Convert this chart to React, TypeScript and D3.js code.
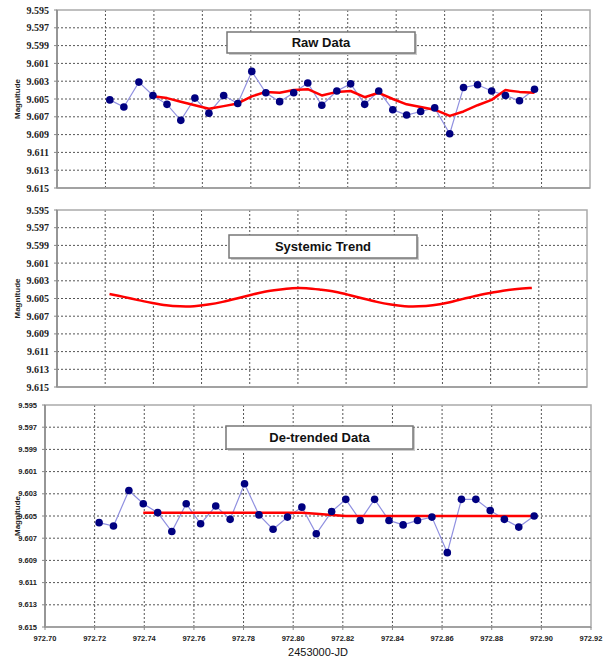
import React, { useRef, useEffect } from "react";
import * as d3 from "d3";

// observation times (2453000-JD)
const times = [
  972.7218, 972.7276, 972.7338, 972.7396, 972.7454, 972.7511, 972.7569, 972.7627,
  972.7688, 972.7746, 972.7804, 972.7862, 972.7919, 972.7977, 972.8035, 972.8093,
  972.8155, 972.8212, 972.827, 972.8328, 972.8386, 972.8443, 972.8501, 972.8559,
  972.8621, 972.8678, 972.8736, 972.8794, 972.8851, 972.8909, 972.8971,
];

const rawMag = [
  9.6051, 9.6059, 9.6031, 9.6046, 9.6056, 9.6074, 9.6049, 9.6066, 9.6046, 9.6055,
  9.6019, 9.6043, 9.6053, 9.6043, 9.6032, 9.6057, 9.6041, 9.6033, 9.6056, 9.6041,
  9.6062, 9.6068, 9.6064, 9.606, 9.6089, 9.6037, 9.6034, 9.6041, 9.6046, 9.6052,
  9.6039,
];

// running mean, starts at the 4th observation
const rawMean = [
  9.6047, 9.6049, 9.6053, 9.6057, 9.6061, 9.6058, 9.6055, 9.6047, 9.6042, 9.6043,
  9.604, 9.6039, 9.6046, 9.6042, 9.6041, 9.6048, 9.6043, 9.605, 9.6056, 9.6059,
  9.6062, 9.6069, 9.6064, 9.6057, 9.6051, 9.604, 9.6042, 9.6043,
];

const systemicTrend = [
  9.6045, 9.6048, 9.6052, 9.6055, 9.6058, 9.6059, 9.6059, 9.6057, 9.6054, 9.605,
  9.6046, 9.6042, 9.604, 9.6038, 9.6038, 9.604, 9.6042, 9.6046, 9.605, 9.6054,
  9.6057, 9.6059, 9.6059, 9.6058, 9.6055, 9.6051, 9.6047, 9.6044, 9.6041, 9.6039,
  9.6038,
];

const detrendedMag = [
  9.6056, 9.6059, 9.6027, 9.6039, 9.6047, 9.6064, 9.6039, 9.6057, 9.6041, 9.6053,
  9.6021, 9.6049, 9.6062, 9.6051, 9.6042, 9.6066, 9.6046, 9.6035, 9.6054, 9.6035,
  9.6054, 9.6058, 9.6054, 9.6051, 9.6083, 9.6035, 9.6035, 9.6045, 9.6053, 9.606,
  9.605,
];

const detrendedMean = [
  9.6047, 9.6047, 9.6047, 9.6047, 9.6047, 9.6047, 9.6047, 9.6047, 9.6047, 9.6047,
  9.6047, 9.6047, 9.6048, 9.6049, 9.605, 9.605, 9.605, 9.605, 9.605, 9.605,
  9.605, 9.605, 9.605, 9.605, 9.605, 9.605, 9.605, 9.605,
];

const yTicks = [9.595, 9.597, 9.599, 9.601, 9.603, 9.605, 9.607, 9.609, 9.611, 9.613, 9.615];
const xTicks = [972.7, 972.72, 972.74, 972.76, 972.78, 972.8, 972.82, 972.84, 972.86, 972.88, 972.9, 972.92];

const App = () => {
  const svgRef = useRef();

  useEffect(() => {
    document.body.style.margin = "0";
    const svg = d3.select(svgRef.current);
    svg.selectAll("*").remove();

    const panels = [
      {
        top: 10, bottom: 188, left: 57, right: 590,
        title: "Raw Data", box: [227, 32, 188, 21],
        points: rawMag, red: rawMean, redStart: 3, smooth: false,
        labelFont: "'Liberation Serif', 'Times New Roman', serif", labelSize: 10, showX: false,
      },
      {
        top: 210, bottom: 387, left: 57, right: 587,
        title: "Systemic Trend", box: [229, 235, 188, 23],
        points: null, red: systemicTrend, redStart: 0, smooth: true,
        labelFont: "'Liberation Serif', 'Times New Roman', serif", labelSize: 10, showX: false,
      },
      {
        top: 405, bottom: 627, left: 45, right: 591,
        title: "De-trended Data", box: [226, 426, 187, 23],
        points: detrendedMag, red: detrendedMean, redStart: 3, smooth: false,
        labelFont: "Arial, 'Liberation Sans', sans-serif", labelSize: 7.5, showX: true,
      },
    ];

    panels.forEach((p) => {
      const x = d3.scaleLinear().domain([972.7, 972.92]).range([p.left, p.right]);
      const y = d3.scaleLinear().domain([9.595, 9.615]).range([p.top, p.bottom]);
      const g = svg.append("g");

      // grid
      g.selectAll(".hgrid")
        .data(yTicks.slice(1, -1))
        .enter()
        .append("line")
        .attr("x1", p.left)
        .attr("x2", p.right)
        .attr("y1", (d) => y(d))
        .attr("y2", (d) => y(d))
        .attr("stroke", "#555")
        .attr("stroke-width", 1)
        .attr("stroke-dasharray", "2,2");
      g.selectAll(".vgrid")
        .data(xTicks.slice(1, -1))
        .enter()
        .append("line")
        .attr("x1", (d) => x(d))
        .attr("x2", (d) => x(d))
        .attr("y1", p.top)
        .attr("y2", p.bottom)
        .attr("stroke", "#555")
        .attr("stroke-width", 1)
        .attr("stroke-dasharray", "2,2");

      // frame
      g.append("rect")
        .attr("x", p.left)
        .attr("y", p.top)
        .attr("width", p.right - p.left)
        .attr("height", p.bottom - p.top)
        .attr("fill", "none")
        .attr("stroke", "#aaa")
        .attr("stroke-width", 1.5);
      g.append("line")
        .attr("x1", p.left).attr("x2", p.left)
        .attr("y1", p.top).attr("y2", p.bottom)
        .attr("stroke", "#888").attr("stroke-width", 1.5);
      g.append("line")
        .attr("x1", p.left).attr("x2", p.right)
        .attr("y1", p.bottom).attr("y2", p.bottom)
        .attr("stroke", "#999").attr("stroke-width", 1.5);

      // y axis labels
      g.selectAll(".ytick")
        .data(yTicks)
        .enter()
        .append("line")
        .attr("x1", p.left - 3).attr("x2", p.left)
        .attr("y1", (d) => y(d)).attr("y2", (d) => y(d))
        .attr("stroke", "#888");
      g.selectAll(".ylab")
        .data(yTicks)
        .enter()
        .append("text")
        .attr("x", p.left - 8)
        .attr("y", (d) => y(d) + p.labelSize * 0.35)
        .attr("text-anchor", "end")
        .attr("font-family", p.labelFont)
        .attr("font-weight", "bold")
        .attr("font-size", p.labelSize)
        .attr("fill", "#222")
        .text((d) => d3.format(".3f")(d));

      g.append("text")
        .attr("transform", `translate(20,${(p.top + p.bottom) / 2}) rotate(-90)`)
        .attr("text-anchor", "middle")
        .attr("font-family", "Arial, 'Liberation Sans', sans-serif")
        .attr("font-weight", "bold")
        .attr("font-size", 8)
        .attr("fill", "#222")
        .text("Magnitude");

      if (p.showX) {
        g.selectAll(".xtick")
          .data(xTicks)
          .enter()
          .append("line")
          .attr("x1", (d) => x(d)).attr("x2", (d) => x(d))
          .attr("y1", p.bottom).attr("y2", p.bottom + 3)
          .attr("stroke", "#888");
        g.selectAll(".xlab")
          .data(xTicks)
          .enter()
          .append("text")
          .attr("x", (d) => x(d))
          .attr("y", p.bottom + 14)
          .attr("text-anchor", "middle")
          .attr("font-family", "Arial, 'Liberation Sans', sans-serif")
          .attr("font-weight", "bold")
          .attr("font-size", 7.5)
          .attr("fill", "#222")
          .text((d) => d3.format(".2f")(d));
        g.append("text")
          .attr("x", (p.left + p.right) / 2)
          .attr("y", 656)
          .attr("text-anchor", "middle")
          .attr("font-family", "Arial, 'Liberation Sans', sans-serif")
          .attr("font-size", 11)
          .attr("fill", "#111")
          .text("2453000-JD");
      }

      // title box
      const [bx, by, bw, bh] = p.box;
      g.append("rect")
        .attr("x", bx + 2).attr("y", by + 2)
        .attr("width", bw).attr("height", bh)
        .attr("fill", "#ccc");
      g.append("rect")
        .attr("x", bx).attr("y", by)
        .attr("width", bw).attr("height", bh)
        .attr("fill", "white")
        .attr("stroke", "#777")
        .attr("stroke-width", 1.5);
      g.append("text")
        .attr("x", bx + bw / 2)
        .attr("y", by + bh / 2 + 4.5)
        .attr("text-anchor", "middle")
        .attr("font-family", "Arial, 'Liberation Sans', sans-serif")
        .attr("font-weight", "bold")
        .attr("font-size", 13)
        .attr("fill", "#111")
        .text(p.title);

      // data
      if (p.points) {
        const line = d3
          .line()
          .x((d, i) => x(times[i]))
          .y((d) => y(d));
        g.append("path")
          .attr("d", line(p.points))
          .attr("fill", "none")
          .attr("stroke", "#9090e0")
          .attr("stroke-width", 1.2);
      }

      const redLine = d3
        .line()
        .x((d, i) => x(times[i + p.redStart]))
        .y((d) => y(d))
        .curve(p.smooth ? d3.curveBasis : d3.curveLinear);
      g.append("path")
        .attr("d", redLine(p.red))
        .attr("fill", "none")
        .attr("stroke", "#ff0000")
        .attr("stroke-width", 2.5)
        .attr("stroke-linejoin", "round");

      if (p.points) {
        g.selectAll(".pt")
          .data(p.points)
          .enter()
          .append("circle")
          .attr("cx", (d, i) => x(times[i]))
          .attr("cy", (d) => y(d))
          .attr("r", 3.8)
          .attr("fill", "#000080");
      }
    });
  }, []);

  return <svg ref={svgRef} width={606} height={660} style={{ display: "block" }} />;
};

export default App;
